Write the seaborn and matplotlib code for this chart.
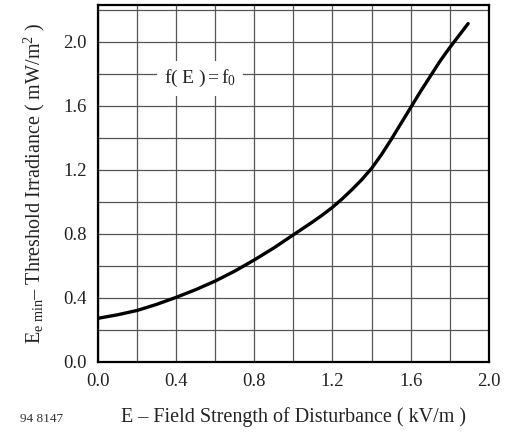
import numpy as np
import pandas as pd
import matplotlib
matplotlib.use("Agg")
import matplotlib.pyplot as plt
import seaborn as sns

# Data
field_strength = [0.0, 0.1, 0.2, 0.3, 0.4, 0.5, 0.6, 0.7, 0.8, 0.9, 1.0, 1.1, 1.15, 1.2, 1.25,
                  1.3, 1.35, 1.4, 1.45, 1.5, 1.55, 1.6, 1.65, 1.7, 1.75, 1.8, 1.85, 1.894]
threshold_irr = [0.273, 0.295, 0.322, 0.36, 0.404, 0.452, 0.506, 0.568, 0.638, 0.713, 0.795, 0.877, 0.92, 0.967, 1.02,
                 1.078, 1.14, 1.21, 1.295, 1.39, 1.49, 1.59, 1.69, 1.785, 1.88, 1.965, 2.045, 2.115]
x_ticks = [0.0, 0.4, 0.8, 1.2, 1.6, 2.0]
y_ticks = [0.0, 0.4, 0.8, 1.2, 1.6, 2.0]
x_label = "E – Field Strength of Disturbance ( kV/m )"
y_label = r"E$_{\rm e\ min}$– Threshold Irradiance ( mW/m$^2$ )"
annotation = r"f( E )$\,$=$\,$f$_0$"
figure_id = "94 8147"

sns.set_theme(style="white")
plt.rcParams["font.family"] = ["Liberation Serif", "DejaVu Serif"]
plt.rcParams["mathtext.fontset"] = "custom"
plt.rcParams["mathtext.rm"] = "Liberation Serif"
plt.rcParams["mathtext.it"] = "Liberation Serif"

df = pd.DataFrame({"E": field_strength, "Ee": threshold_irr})

fig = plt.figure(figsize=(5.05, 4.33), dpi=100)
ax = fig.add_axes([0.194, 0.164, 0.774, 0.824])

sns.lineplot(data=df, x="E", y="Ee", ax=ax, color="black", linewidth=2.4,
             solid_joinstyle="round", solid_capstyle="round")

ax.set_xlim(0, 2.0)
ax.set_ylim(0, 2.23)
ax.set_xticks(np.arange(0, 2.01, 0.2), minor=True)
ax.set_yticks(np.arange(0, 2.21, 0.2), minor=True)
ax.set_xticks(x_ticks)
ax.set_yticks(y_ticks)
ax.set_xticklabels([f"{v:.1f}" for v in x_ticks])
ax.set_yticklabels([f"{v:.1f}" for v in y_ticks])
ax.grid(True, which="both", color="#555555", linewidth=0.9)
ax.tick_params(which="both", length=0, labelsize=13.5, colors="#222222", pad=8)
for s in ax.spines.values():
    s.set_color("black")
    s.set_linewidth(1.6)

ax.set_xlabel(x_label, fontsize=14.5, color="#222222", labelpad=12)
ax.set_ylabel(y_label, fontsize=14.5, color="#222222", labelpad=12)

ax.text(0.52, 1.77, annotation, fontsize=14, ha="center", va="center", color="#222222",
        bbox=dict(facecolor="white", edgecolor="none", pad=5))

fig.text(0.04, 0.025, figure_id, fontsize=9.5, color="#333333")

fig.savefig("out.png", dpi=100)
